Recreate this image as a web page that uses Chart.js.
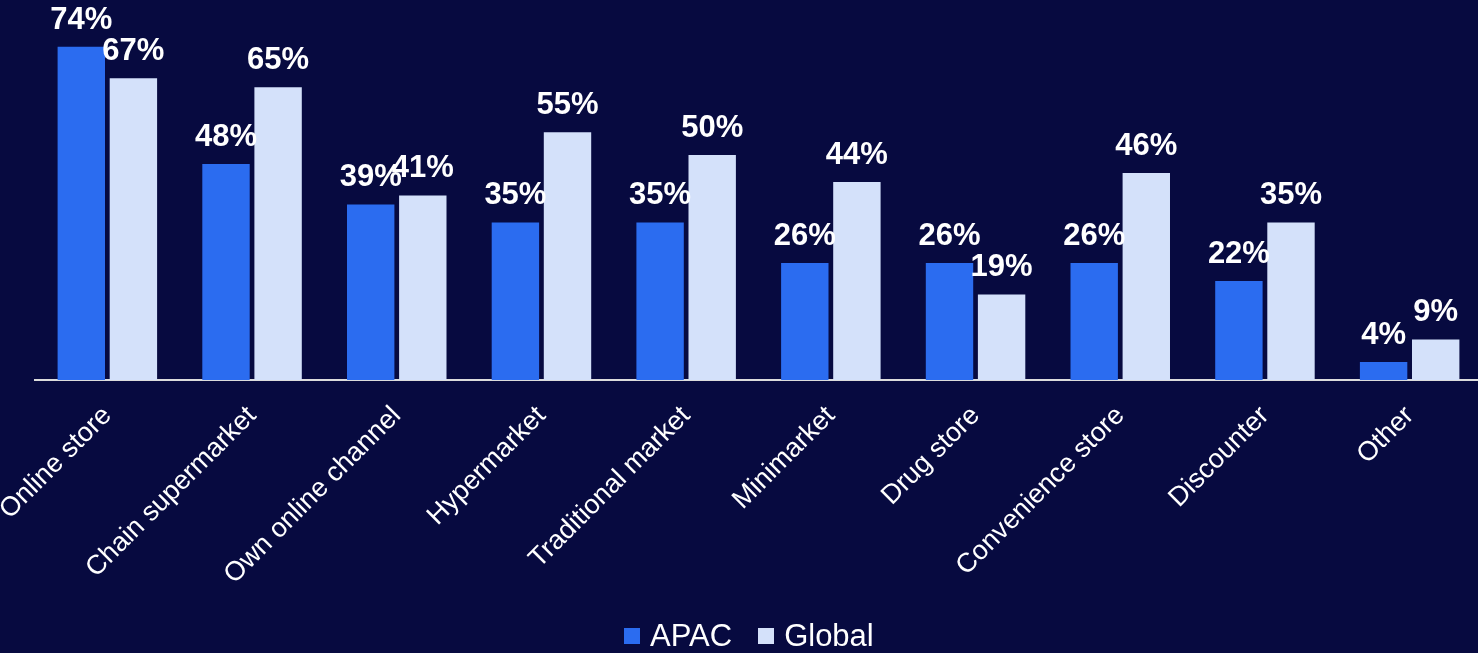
<!DOCTYPE html>
<html>
<head>
<meta charset="utf-8">
<script src="https://cdn.jsdelivr.net/npm/chart.js@4/dist/chart.umd.min.js"></script>
<style>
  html, body { margin: 0; padding: 0; background: #070a40; overflow: hidden; }
  #wrap { width: 1482px; height: 653px; position: relative; }
  #legend {
    position: absolute; left: 624px; top: 618px; height: 35px;
    display: flex; align-items: center;
    font: 31px Arial, 'Liberation Sans', sans-serif; color: #ffffff; line-height: 35px;
  }
  #legend .box { width: 16px; height: 16px; margin-right: 10px; }
  #legend .item { display: flex; align-items: center; margin-right: 26px; }
</style>
</head>
<body>
<div id="wrap">
  <canvas id="chart"></canvas>
  <div id="legend"></div>
</div>
<script>
const categories = ['Online store', 'Chain supermarket', 'Own online channel', 'Hypermarket',
  'Traditional market', 'Minimarket', 'Drug store', 'Convenience store', 'Discounter', 'Other'];
const apac   = [74, 48, 39, 35, 35, 26, 26, 26, 22, 4];
const global = [67, 65, 41, 55, 50, 44, 19, 46, 35, 9];

const FONT = "Arial, 'Liberation Sans', sans-serif";

// draws the "xx%" labels above each bar
const valueLabels = {
  id: 'valueLabels',
  afterDatasetsDraw(chart) {
    const ctx = chart.ctx;
    ctx.save();
    ctx.font = `bold 31px ${FONT}`;
    ctx.fillStyle = '#ffffff';
    ctx.textAlign = 'center';
    ctx.textBaseline = 'alphabetic';
    chart.data.datasets.forEach((ds, i) => {
      chart.getDatasetMeta(i).data.forEach((bar, j) => {
        ctx.fillText(ds.data[j] + '%', bar.x, bar.y - 18);
      });
    });
    ctx.restore();
  }
};

const chart = new Chart(document.getElementById('chart'), {
  type: 'bar',
  data: {
    labels: categories,
    datasets: [
      { label: 'APAC',   data: apac,   backgroundColor: '#2b6cf0' },
      { label: 'Global', data: global, backgroundColor: '#d4e1fa' },
    ],
  },
  options: {
    responsive: true,
    maintainAspectRatio: false,
    animation: false,
    layout: { padding: { left: 35, right: 0, top: 0, bottom: 0 } },
    datasets: { bar: { categoryPercentage: 0.72, barPercentage: 0.91 } },
    plugins: {
      tooltip: { enabled: false },
      legend: { display: false },
    },
    scales: {
      x: {
        grid: { display: false, drawTicks: false },
        border: { display: true, color: '#dcdcdc', width: 2 },
        ticks: {
          color: '#ffffff',
          font: { family: FONT, size: 27 },
          minRotation: 45,
          maxRotation: 45,
          autoSkip: false,
          padding: 20,
        },
        afterFit(scale) {
          scale.paddingLeft = 0;
          scale.paddingRight = 0;
          scale.height = 273;
        },
      },
      y: {
        display: false,
        min: 0,
        max: 84.4,
      },
    },
  },
  plugins: [valueLabels],
});

// simple html legend built from the datasets
document.getElementById('legend').innerHTML = chart.data.datasets.map(ds =>
  `<div class="item"><div class="box" style="background:${ds.backgroundColor}"></div>${ds.label}</div>`
).join('');
</script>
</body>
</html>
